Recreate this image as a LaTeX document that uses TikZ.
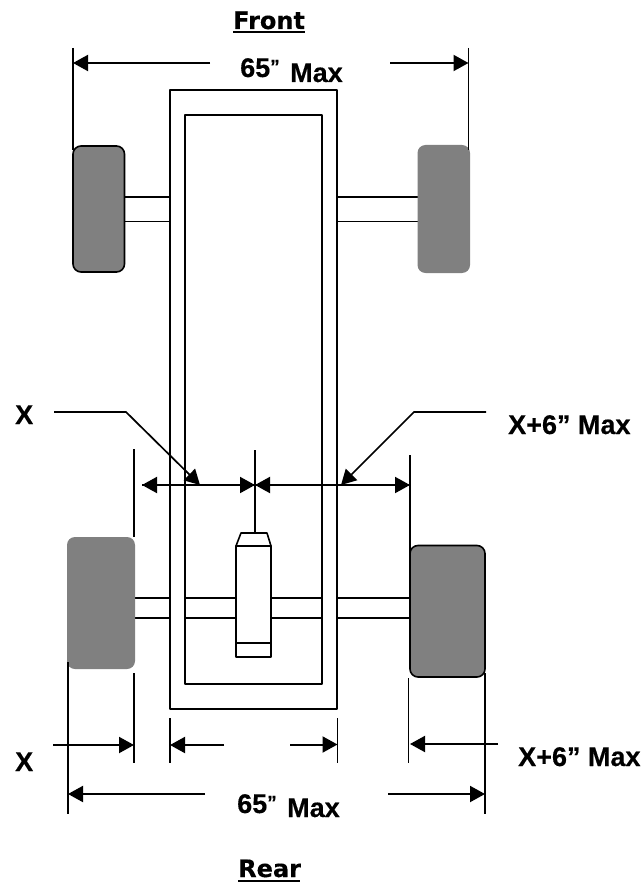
\documentclass[tikz,border=0pt]{standalone}
\usepackage{fontspec}
\setmainfont[BoldFeatures={FakeBold=0.4}]{Liberation Sans}
\newfontfamily\headfont[BoldFeatures={FakeBold=0.3}]{DejaVu Sans}
\usetikzlibrary{arrows.meta}
\tikzset{
  lbl/.style={inner sep=0pt,anchor=base west,font=\fontsize{27}{30}\selectfont\bfseries},
  qm/.style={inner sep=0pt,anchor=base west,font=\fontsize{19}{22}\selectfont\bfseries},
  headlbl/.style={inner sep=0pt,anchor=base west,font=\fontsize{24}{28}\selectfont\headfont\bfseries},
  part/.style={draw=black,line width=1.6pt,line join=round},
  tick/.style={draw=black,line width=1.5pt},
  dim/.style={draw=black,line width=2pt,-{Triangle[length=15pt,width=16pt]}},
  tire/.style={fill=tiregray,rounded corners=8pt},
}
\definecolor{tiregray}{HTML}{808080}
\begin{document}
\begin{tikzpicture}[x=1pt,y=-1pt]
\useasboundingbox (0,0) rectangle (644,890);
\fill[white] (0,0) rectangle (644,890);

% frame
\draw[part] (170,90) rectangle (337,709);
\draw[part] (185,115) rectangle (322,684);

% axles
\draw[part] (124,197) -- (170,197) (124,221.5) -- (170,221.5);
\draw[part] (337,197) -- (418,197) (337,221.5) -- (418,221.5);
\draw[part] (135,598) -- (170,598) (135,618) -- (170,618);
\draw[part] (185,598) -- (236,598) (185,618) -- (236,618);
\draw[part] (271,598) -- (322,598) (271,618) -- (322,618);
\draw[part] (337,598) -- (410,598) (337,618) -- (410,618);

% tires
\path[tire,draw=black,line width=1.6pt] (73,146) rectangle (124.5,272);
\path[tire] (417.5,145) rectangle (470,273);
\path[tire] (67,537) rectangle (135,669);
\path[tire,draw=black,line width=1.6pt] (410,545.5) rectangle (485,677);

% differential
\draw[part] (236,546) rectangle (271,657);
\draw[part] (236,546) -- (241,533) -- (267,533) -- (271,546);
\draw[part] (236,643) -- (271,643);

% ticks
\coordinate (ftl) at (73,48);  \coordinate (fbl) at (73,150);
\coordinate (ftr) at (468.5,48); \coordinate (fbr) at (468.5,150);
\draw[tick] (ftl) -- (fbl);
\draw[tick] (ftr) -- (fbr);
\coordinate (tl1) at (134,449); \coordinate (tl2) at (134,537);
\coordinate (tc1) at (255,450); \coordinate (tc2) at (255,534);
\coordinate (tr1) at (410,455); \coordinate (tr2) at (410,555);
\draw[tick] (tl1) -- (tl2);
\draw[tick] (tc1) -- (tc2);
\draw[tick] (tr1) -- (tr2);
\coordinate (b1a) at (68,662);  \coordinate (b1b) at (68,814);
\coordinate (b2a) at (134,673); \coordinate (b2b) at (134,763);
\coordinate (b3a) at (170,718); \coordinate (b3b) at (170,763);
\coordinate (b4a) at (337.5,718); \coordinate (b4b) at (337.5,763);
\coordinate (b5a) at (408.5,678); \coordinate (b5b) at (408.5,763);
\coordinate (b6a) at (485,673); \coordinate (b6b) at (485,814);
\foreach \p in {b1,b2,b3,b4,b5,b6} \draw[tick] (\p a) -- (\p b);

% top dimension
\coordinate (tda) at (210,63); \coordinate (tdb) at (390,63);
\draw[dim] (tda) -- (73,63);
\draw[dim] (tdb) -- (468.5,63);

% middle dimensions
\coordinate (mc) at (255,485);
\draw[dim] (mc) -- (142,485);
\draw[dim] (142,485) -- (mc);
\draw[dim] (410,485) -- (mc);
\draw[dim] (mc) -- (410,485);

% leaders
\coordinate (lx0) at (54,412); \coordinate (lx1) at (126,412); \coordinate (lx2) at (200,485);
\coordinate (rx0) at (486,412); \coordinate (rx1) at (414,412); \coordinate (rx2) at (341,485);
\draw[dim,line width=1.7pt] (lx0) -- (lx1) -- (lx2);
\draw[dim,line width=1.7pt] (rx0) -- (rx1) -- (rx2);

% lower dimensions
\coordinate (a1) at (53,745);
\coordinate (a2) at (224,745);
\coordinate (a3) at (290,744.5);
\coordinate (a4) at (498,744);
\draw[dim] (a1) -- (134,745);
\draw[dim] (a2) -- (170,745);
\draw[dim] (a3) -- (337.5,744.5);
\draw[dim] (a4) -- (410,744);
\coordinate (c1) at (205,794); \coordinate (c2) at (388,794);
\draw[dim] (c1) -- (68,794);
\draw[dim] (c2) -- (485,794);

% labels
\node[headlbl] (front) at (233,29) {Front};
\draw[line width=2pt] (233,32.5) -- (305,32.5);
\node[headlbl] (rear) at (238,877) {Rear};
\draw[line width=2pt] (238,881) -- (300,881);

\node[lbl] (sixtyfiveT) at (240,77) {65};
\node[qm] (qT) at (270,73) {”};
\node[lbl] (maxT) at (290,82) {Max};
\node[lbl] (sixtyfiveB) at (237,813) {65};
\node[qm] (qB) at (267,809) {”};
\node[lbl] (maxB) at (287,817) {Max};

\node[lbl] (xT) at (15,424) {X};
\node[lbl] (xB) at (15,771) {X};
\node[lbl] (x6T) at (508,434) {X+6” Max};
\node[lbl] (x6B) at (518,766) {X+6” Max};
\end{tikzpicture}
\end{document}
